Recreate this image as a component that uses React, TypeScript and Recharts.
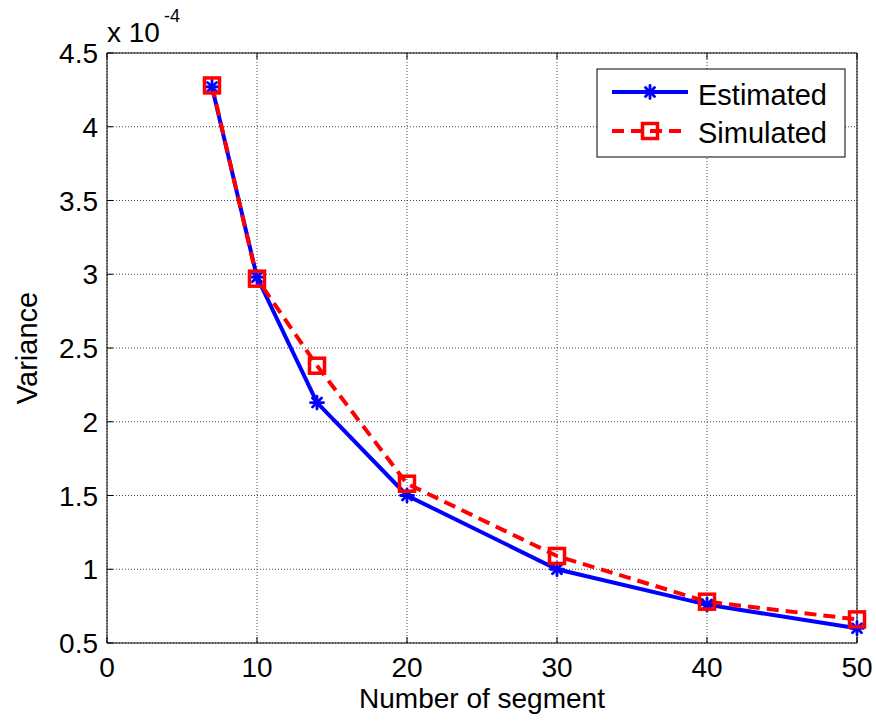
import React from 'react';
import { LineChart, Line, XAxis, YAxis, CartesianGrid } from 'recharts';

// values are in units of 1e-4 (the axis carries the "x 10^-4" multiplier)
const segments = [7, 10, 14, 20, 30, 40, 50];
const estimated = [4.27, 2.98, 2.13, 1.5, 1.0, 0.76, 0.6];
const simulated = [4.28, 2.97, 2.38, 1.58, 1.09, 0.78, 0.66];
const xTicks = [0, 10, 20, 30, 40, 50];
const yTicks = [0.5, 1, 1.5, 2, 2.5, 3, 3.5, 4, 4.5];

const FONT = '"Liberation Sans", Arial, Helvetica, sans-serif';
const BLUE = '#0000ff';
const RED = '#ff0000';

const chartData = segments.map((s, i) => ({
  seg: s,
  est: estimated[i],
  sim: simulated[i],
}));

function Asterisk({ cx, cy, r = 6.5 }: { cx: number; cy: number; r?: number }) {
  const d = r * 0.7;
  return (
    <g stroke={BLUE} strokeWidth={2.8} strokeLinecap="round">
      <line x1={cx - r} y1={cy} x2={cx + r} y2={cy} />
      <line x1={cx} y1={cy - r} x2={cx} y2={cy + r} />
      <line x1={cx - d} y1={cy - d} x2={cx + d} y2={cy + d} />
      <line x1={cx - d} y1={cy + d} x2={cx + d} y2={cy - d} />
    </g>
  );
}

function Square({ cx, cy }: { cx: number; cy: number }) {
  return (
    <rect x={cx - 7.5} y={cy - 7.5} width={15} height={15} fill="none" stroke={RED} strokeWidth={3.5} />
  );
}

// MATLAB-style ticks: short marks pointing into the plot box
const LeftTick = (p: any) => (
  <g>
    <line x1={p.x} y1={p.y} x2={p.x + 6} y2={p.y} stroke="#000" />
    <text x={p.x - 9} y={p.y + 10} textAnchor="end" fontSize={28} fontFamily={FONT} fill="#000">
      {p.payload.value}
    </text>
  </g>
);
const BottomTick = (p: any) => (
  <g>
    <line x1={p.x} y1={p.y} x2={p.x} y2={p.y - 6} stroke="#000" />
    <text x={p.x} y={p.y + 34} textAnchor="middle" fontSize={28} fontFamily={FONT} fill="#000">
      {p.payload.value}
    </text>
  </g>
);
const TopTick = (p: any) => <line x1={p.x} y1={p.y} x2={p.x} y2={p.y + 6} stroke="#000" />;
const RightTick = (p: any) => <line x1={p.x} y1={p.y} x2={p.x - 6} y2={p.y} stroke="#000" />;

function LegendBox() {
  return (
    <svg width={876} height={727} style={{ position: 'absolute', left: 0, top: 0, pointerEvents: 'none' }}>
      <rect x={597} y={69} width={248} height={88} fill="#fff" stroke="#000" strokeWidth={1} />
      <line x1={612} y1={92} x2={688} y2={92} stroke={BLUE} strokeWidth={4} />
      <Asterisk cx={650} cy={92} />
      <text x={698} y={105} fontSize={29} fontFamily={FONT} fill="#000">Estimated</text>
      <line x1={612} y1={131} x2={688} y2={131} stroke={RED} strokeWidth={4} strokeDasharray="12 7" />
      <Square cx={650} cy={131} />
      <text x={698} y={143} fontSize={29} fontFamily={FONT} fill="#000">Simulated</text>
      <text x={107} y={42} fontSize={28} fontFamily={FONT} fill="#000">x 10</text>
      <text x={164} y={22} fontSize={18} fontFamily={FONT} fill="#000">-4</text>
    </svg>
  );
}

export default function App() {
  return (
    <div style={{ position: 'absolute', left: 0, top: 0, width: 876, height: 727, background: '#fff' }}>
      <LineChart width={876} height={727} data={chartData} margin={{ top: 0, right: 0, bottom: 0, left: 0 }}>
        <CartesianGrid
          xAxisId="b"
          yAxisId="l"
          stroke="#444"
          strokeDasharray="1 2"
          horizontalValues={yTicks}
          verticalValues={xTicks}
        />
        <XAxis
          xAxisId="b"
          dataKey="seg"
          type="number"
          domain={[0, 50]}
          ticks={xTicks}
          height={84}
          tickSize={0}
          tickMargin={0}
          tick={BottomTick}
          stroke="#000"
          label={{
            content: () => (
              <text x={482} y={708} textAnchor="middle" fontSize={28} fontFamily={FONT} fill="#000">
                Number of segment
              </text>
            ),
          }}
        />
        <XAxis
          xAxisId="t"
          orientation="top"
          dataKey="seg"
          type="number"
          domain={[0, 50]}
          ticks={xTicks}
          height={53}
          tickSize={0}
          tickMargin={0}
          tick={TopTick}
          stroke="#000"
        />
        <YAxis
          yAxisId="l"
          type="number"
          domain={[0.5, 4.5]}
          ticks={yTicks}
          width={107}
          tickSize={0}
          tickMargin={0}
          tick={LeftTick}
          stroke="#000"
          label={{
            content: () => (
              <text
                x={37}
                y={348}
                transform="rotate(-90 37 348)"
                textAnchor="middle"
                fontSize={29}
                fontFamily={FONT}
                fill="#000"
              >
                Variance
              </text>
            ),
          }}
        />
        <YAxis
          yAxisId="r"
          orientation="right"
          type="number"
          domain={[0.5, 4.5]}
          ticks={yTicks}
          width={19}
          tickSize={0}
          tickMargin={0}
          tick={RightTick}
          stroke="#000"
        />
        <Line
          xAxisId="b"
          yAxisId="l"
          dataKey="est"
          stroke={BLUE}
          strokeWidth={4}
          type="linear"
          dot={(p: any) => <Asterisk key={`e${p.index}`} cx={p.cx} cy={p.cy} />}
          activeDot={false}
          isAnimationActive={false}
        />
        <Line
          xAxisId="b"
          yAxisId="l"
          dataKey="sim"
          stroke={RED}
          strokeWidth={4}
          strokeDasharray="12 7"
          type="linear"
          dot={(p: any) => <Square key={`s${p.index}`} cx={p.cx} cy={p.cy} />}
          activeDot={false}
          isAnimationActive={false}
        />
      </LineChart>
      <LegendBox />
    </div>
  );
}
